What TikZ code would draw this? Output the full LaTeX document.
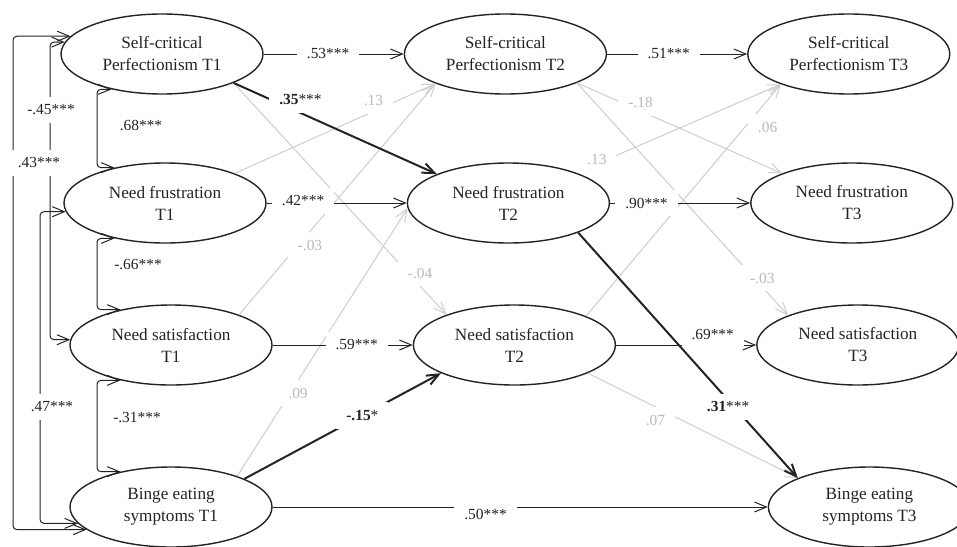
\documentclass[tikz,border=0pt]{standalone}
\usepackage{fontspec}
\setmainfont{Liberation Serif}
\usetikzlibrary{
  positioning,
  shapes.geometric,
  arrows.meta
}

\definecolor{ink}{RGB}{35,35,35}
\definecolor{pathgray}{RGB}{205,205,205}
\definecolor{labelgray}{RGB}{185,185,185}

\begin{document}
\begin{tikzpicture}[
  x=0.5pt, y=-0.5pt,
  node distance=70pt,
  >={Straight Barb[length=6pt, width=5pt]},
  factor/.style={draw=ink, ellipse, line width=0.7pt, minimum width=101pt, minimum height=40pt, inner sep=0pt, align=center, text=ink, font=\fontsize{8.6}{11}\selectfont},
  coef/.style={->, draw=ink, line width=0.5pt},
  strong/.style={->, draw=ink, line width=1pt},
  weak/.style={->, draw=pathgray, line width=0.5pt},
  cov/.style={<->, draw=ink, line width=0.5pt, rounded corners=2pt},
  lbl/.style={fill=white, inner xsep=5pt, inner ysep=4pt, text=ink, font=\fontsize{7.7}{9}\selectfont},
  wlbl/.style={lbl, text=labelgray}
]
\useasboundingbox (0,0) rectangle (957,546);

% T1
\node[factor] (scp1) at (162,54) {Self-critical\\Perfectionism T1};
\node[factor] (nf1) at (165,203) {Need frustration\\T1};
\node[factor] (ns1) at (171,345) {Need satisfaction\\T1};
\node[factor] (be1) at (171,507) {Binge eating\\symptoms T1};

% T2
\node[factor, right=of scp1] (scp2) {Self-critical\\Perfectionism T2};
\node[factor, right=of nf1] (nf2) {Need frustration\\T2};
\node[factor, right=of ns1] (ns2) {Need satisfaction\\T2};

% T3
\node[factor, right=of scp2] (scp3) {Self-critical\\Perfectionism T3};
\node[factor, right=of nf2] (nf3) {Need frustration\\T3};
\node[factor, right=of ns2] (ns3) {Need satisfaction\\T3};
\node[factor, right=247.5pt of be1] (be3) {Binge eating\\symptoms T3};

% Cross-lagged paths (n.s.)
\draw[weak] (nf1.23) -- node[wlbl, pos=0.72, xshift=-3pt, yshift=4pt] {.13} (scp2.203);
\draw[weak] (ns1.24) -- node[wlbl, pos=0.3, xshift=6pt] {-.03} (scp2.203);
\draw[weak] (be1.25) -- node[wlbl, pos=0.31, xshift=4pt] {.09} (nf2.183);
\draw[weak] (scp1.-22) -- node[wlbl, pos=0.82, xshift=6pt] {-.04} (ns2.156);
\draw[weak] (scp2.-22) -- node[wlbl, pos=0.31, yshift=4pt] {-.18} (nf3.157);
\draw[weak] (nf2.24) -- node[wlbl, pos=0.1, yshift=2pt] {.13} (scp3.204);
\draw[weak] (ns2.22) -- node[wlbl, pos=0.85, xshift=8pt, yshift=-4pt] {.06} (scp3.204);
\draw[weak] (scp2.-22) -- node[wlbl, pos=0.84, xshift=4pt] {-.03} (ns3.157);
\draw[weak] (ns2.-21) -- node[wlbl, pos=0.37, xshift=-5pt, yshift=-4pt] {.07} (be3.158);

% Stability paths
\draw[coef] (scp1.east) -- node[lbl, pos=0.46] {.53***} (scp2.west);
\draw[coef] (scp2.east) -- node[lbl, pos=0.44] {.51***} (scp3.west);
\draw[coef] (nf1.east) -- node[lbl, pos=0.26, yshift=1pt] {.42***} (nf2.west);
\draw[coef] (nf2.east) -- node[lbl, pos=0.26] {.90***} (nf3.west);
\draw[coef] (ns1.east) -- node[lbl, pos=0.6] {.59***} (ns2.west);
\draw[coef] (ns2.east) -- node[lbl, pos=0.69, yshift=5pt] {.69***} (ns3.west);
\draw[coef] (be1.east) -- node[lbl, pos=0.43, yshift=-3.5pt] {.50***} (be3.west);

% Significant cross-lagged paths
\draw[strong] (scp1.-22) -- node[lbl, pos=0.27, xshift=6pt, yshift=4pt] {\textbf{.35}***} (nf2.158);
\draw[strong] (nf2.-23) -- node[lbl, pos=0.71, xshift=-3pt] {\textbf{.31}***} (be3.158);
\draw[strong] (be1.21) -- node[lbl, pos=0.6] {\textbf{-.15}*} (ns2.201);

% Correlations at T1
\coordinate (xa) at (13,0);
\coordinate (xb) at (40,0);
\coordinate (xc) at (50,0);
\coordinate (xd) at (97,0);

\draw[cov] (scp1.169) -- (scp1.169 -| xa) -- (be1.195 -| xa) -- (be1.195);
\draw[cov] (scp1.173) -- (scp1.173 -| xc) -- (ns1.177 -| xc) -- (ns1.177);
\draw[cov] (nf1.185) -- (nf1.185 -| xb) -- (be1.190 -| xb) -- (be1.190);
\draw[cov] (scp1.215) -- (scp1.215 -| xd) -- (nf1.145 -| xd) -- (nf1.145);
\draw[cov] (nf1.215) -- (nf1.215 -| xd) -- (ns1.145 -| xd) -- (ns1.145);
\draw[cov] (ns1.215) -- (ns1.215 -| xd) -- (be1.145 -| xd) -- (be1.145);

\node[lbl, inner xsep=1pt] (c45) at (51,110) {-.45***};
\node[lbl, inner xsep=3pt] (c43) at (39,163) {.43***};
\node[lbl, inner xsep=1pt] (c47) at (52,407) {.47***};
\node[lbl] (c68) at (141,125) {.68***};
\node[lbl] (c66) at (138,265) {-.66***};
\node[lbl] (c31) at (137,418) {-.31***};

\end{tikzpicture}
\end{document}
